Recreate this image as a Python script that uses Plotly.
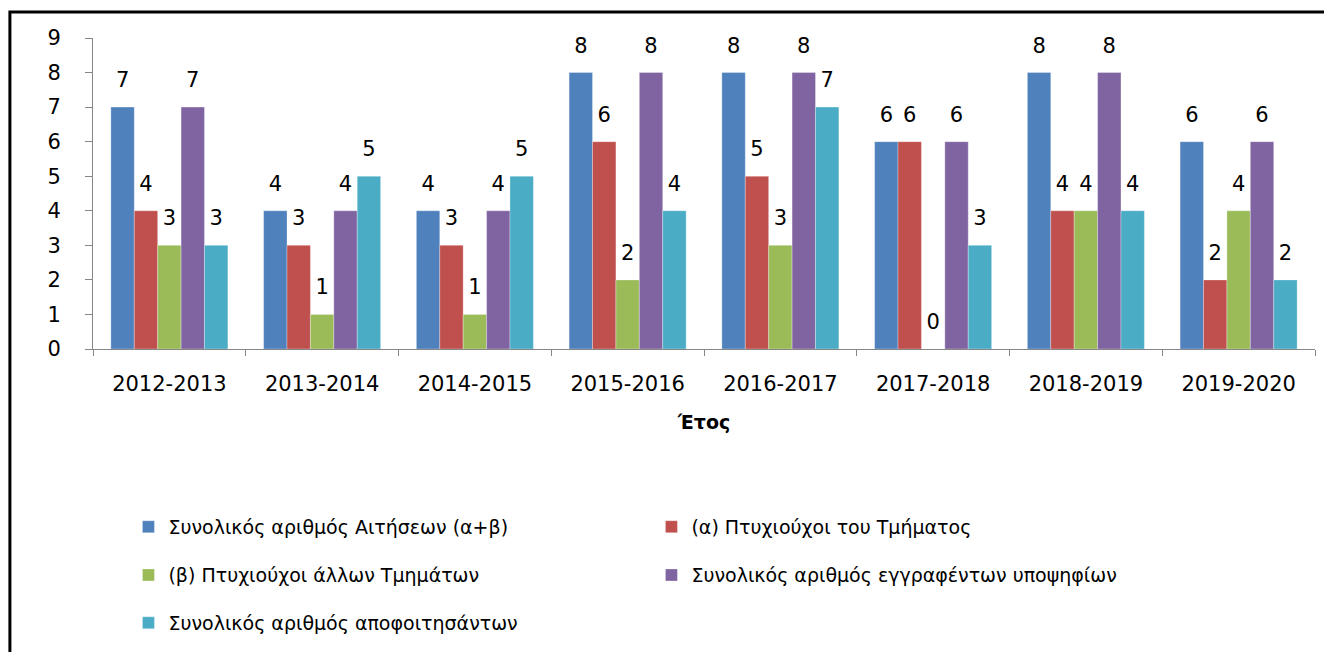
import plotly.graph_objects as go

# Δεδομένα
years = ["2012-2013", "2013-2014", "2014-2015", "2015-2016",
         "2016-2017", "2017-2018", "2018-2019", "2019-2020"]
aitiseis = [7, 4, 4, 8, 8, 6, 8, 6]
ptyx_tmimatos = [4, 3, 3, 6, 5, 6, 4, 2]
ptyx_allon = [3, 1, 1, 2, 3, 0, 4, 4]
eggrafentes = [7, 4, 4, 8, 8, 6, 8, 6]
apofoitisantes = [3, 5, 5, 4, 7, 3, 4, 2]

names = ["Συνολικός αριθμός Αιτήσεων (α+β)",
         "(α) Πτυχιούχοι του Τμήματος",
         "(β) Πτυχιούχοι άλλων Τμημάτων",
         "Συνολικός αριθμός εγγραφέντων υποψηφίων",
         "Συνολικός αριθμός αποφοιτησάντων"]
colors = ["#4F81BD", "#C0504D", "#9BBB59", "#8064A2", "#4BACC6"]
legends = ["legend", "legend", "legend2", "legend2", "legend3"]

FONT = "DejaVu Sans"
FS = 21      # αριθμοί / άξονες
FS_LEG = 19  # υπόμνημα

series = [aitiseis, ptyx_tmimatos, ptyx_allon, eggrafentes, apofoitisantes]

fig = go.Figure()
for i, (vals, name, col, lg) in enumerate(zip(series, names, colors, legends)):
    fig.add_trace(go.Bar(
        x=years, y=vals, name=name, legend=lg, offsetgroup=str(i),
        marker=dict(color=col, line=dict(color="rgba(255,255,255,0.6)", width=0.5)),
    ))

# ετικέτες τιμών λίγο πιο ψηλά από τις μπάρες (όπως στο Excel)
for i, vals in enumerate(series):
    fig.add_trace(go.Scatter(
        x=years, y=vals, mode="markers+text", text=vals,
        textposition="top center", showlegend=False, hoverinfo="skip",
        marker=dict(size=22, opacity=0), offsetgroup=str(i),
        textfont=dict(family=FONT, size=FS, color="black"), cliponaxis=False,
    ))

leg = dict(orientation="h", xanchor="left", yanchor="middle", x=0.029,
           entrywidth=478, entrywidthmode="pixels", itemwidth=30,
           font=dict(family=FONT, size=FS_LEG, color="black"),
           bgcolor="rgba(0,0,0,0)")

# η σελίδα έχει 8px περιθώριο στο body
fig.update_layout(
    width=1324, height=644,
    margin=dict(l=85, r=17, t=30, b=303, autoexpand=False),
    barmode="group", bargap=0.234, bargroupgap=0,
    scattermode="group", scattergap=0.234,
    plot_bgcolor="white", paper_bgcolor="white",
    font=dict(family=FONT, size=FS, color="black"),
    legend=dict(leg, y=-0.572),
    legend2=dict(leg, y=-0.727),
    legend3=dict(leg, y=-0.881),
)
fig.update_xaxes(
    showline=True, linecolor="#868686", linewidth=1,
    ticks="outside", tickson="boundaries", ticklen=6, tickcolor="#868686",
    ticklabelstandoff=16, automargin=False,
    title=dict(text="<b>Έτος</b>", font=dict(family=FONT, size=FS_LEG), standoff=20),
)
fig.update_yaxes(
    range=[0, 9], dtick=1, showgrid=False, zeroline=False,
    showline=True, linecolor="#868686", linewidth=1,
    ticks="outside", ticklen=7, tickcolor="#868686", ticklabelstandoff=20,
    automargin=False,
)

# Πλαίσιο γύρω από το γράφημα
fig.add_shape(type="rect", xref="paper", yref="paper",
              x0=-0.068, x1=1.03, y0=-1.05, y1=1.084,
              line=dict(color="black", width=3), fillcolor="rgba(0,0,0,0)")

fig.write_html("out.html")
